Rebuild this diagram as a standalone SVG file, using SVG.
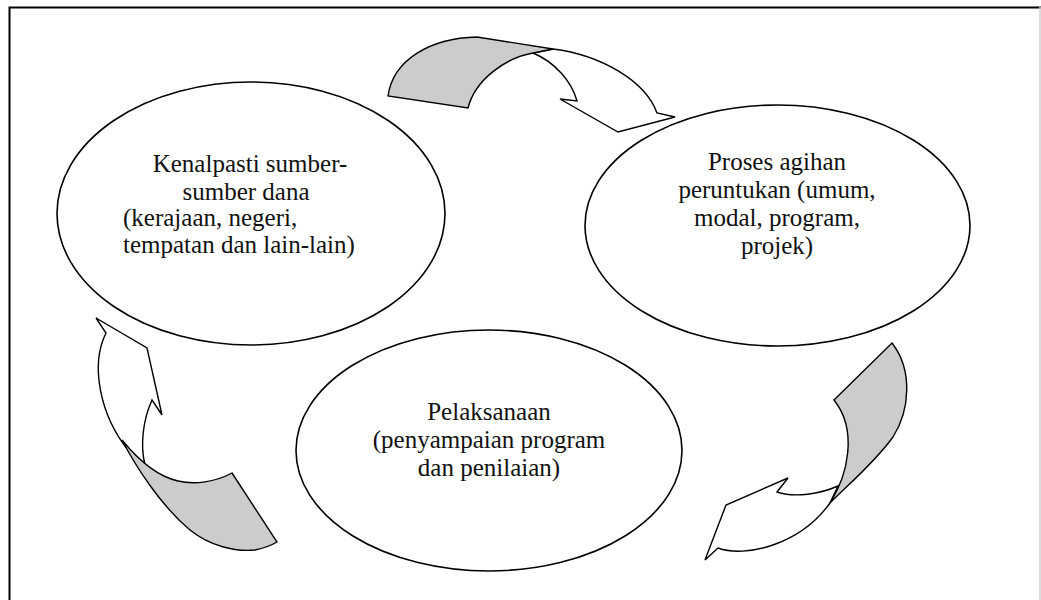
<svg xmlns="http://www.w3.org/2000/svg" width="1041" height="600" viewBox="0 0 1041 600">
  <style>
    .frame { fill: none; stroke: #000; stroke-width: 2; }
    .edge { fill: none; stroke: #cfcfcf; stroke-width: 1.5; }
    .node ellipse { fill: #fff; stroke: #000; stroke-width: 1.6; }
    .node text { font-family: "Liberation Serif", "Times New Roman", serif; font-size: 25px; fill: #111; }
    .mid { text-anchor: middle; }
    .band { fill: #fff; stroke: #000; stroke-width: 1.4; stroke-linejoin: miter; }
    .under { fill: #cccccc; stroke: #000; stroke-width: 1.4; stroke-linejoin: miter; }
  </style>

  <rect width="1041" height="600" fill="#fff"/>

  <!-- page frame -->
  <path class="frame" d="M9.5,600 V7.5 H1041"/>
  <path class="edge" d="M1040,7 V600"/>

  <!-- stages -->
  <g id="sumber-dana" class="node">
    <ellipse cx="251" cy="213.5" rx="194" ry="131.5"/>
    <text class="mid" x="250" y="172">Kenalpasti sumber-</text>
    <text class="mid" x="246" y="200">sumber dana</text>
    <text x="123" y="226">(kerajaan, negeri,</text>
    <text x="123" y="253">tempatan dan lain-lain)</text>
  </g>

  <g id="agihan-peruntukan" class="node">
    <ellipse cx="777.5" cy="225.5" rx="192.5" ry="120.5"/>
    <text class="mid" x="777" y="170">Proses agihan</text>
    <text class="mid" x="777" y="198">peruntukan (umum,</text>
    <text class="mid" x="777" y="226">modal, program,</text>
    <text class="mid" x="777" y="254">projek)</text>
  </g>

  <g id="pelaksanaan" class="node">
    <ellipse cx="489" cy="450.5" rx="193" ry="120.5"/>
    <text class="mid" x="489" y="420">Pelaksanaan</text>
    <text class="mid" x="489" y="448">(penyampaian program</text>
    <text class="mid" x="489" y="476">dan penilaian)</text>
  </g>

  <!-- curved arrows between the stages -->
  <g id="connectors">
    <!-- sumber dana to agihan -->
    <g id="arrow-top">
      <path class="band" d="M533,53 C555,62 572,82 577,101 L560,99 L618,132 L675,117 L657,113 C645,80 600,55 553,49 Z"/>
      <path class="under" d="M388,96 C393,60 430,38 477,37 L553,49 L533,53 C505,58 475,80 468,108 Z"/>
    </g>
    <!-- agihan to pelaksanaan -->
    <g id="arrow-right">
      <path class="band" d="M838,486 C820,494 795,498 777,492 L788,478 L726,505 L705,560 L718,548 C745,558 800,545 830,503 Z"/>
      <path class="under" d="M834,400 L892,343 C913,370 910,410 893,437 C875,462 850,483 830,503 C848,475 858,430 834,400 Z"/>
    </g>
    <!-- pelaksanaan to sumber dana -->
    <g id="arrow-left">
      <path class="band" d="M96,318 L147,348 L162,415 L152,400 C143,420 140,445 145,465 L128,450 C100,415 90,365 106,333 Z"/>
      <path class="under" d="M122,440 C135,465 160,505 190,530 C210,546 235,552 255,550 C265,548 272,545 277,542 L232,473 C215,482 195,485 178,481 C160,477 140,462 122,440 Z"/>
    </g>
  </g>
</svg>
